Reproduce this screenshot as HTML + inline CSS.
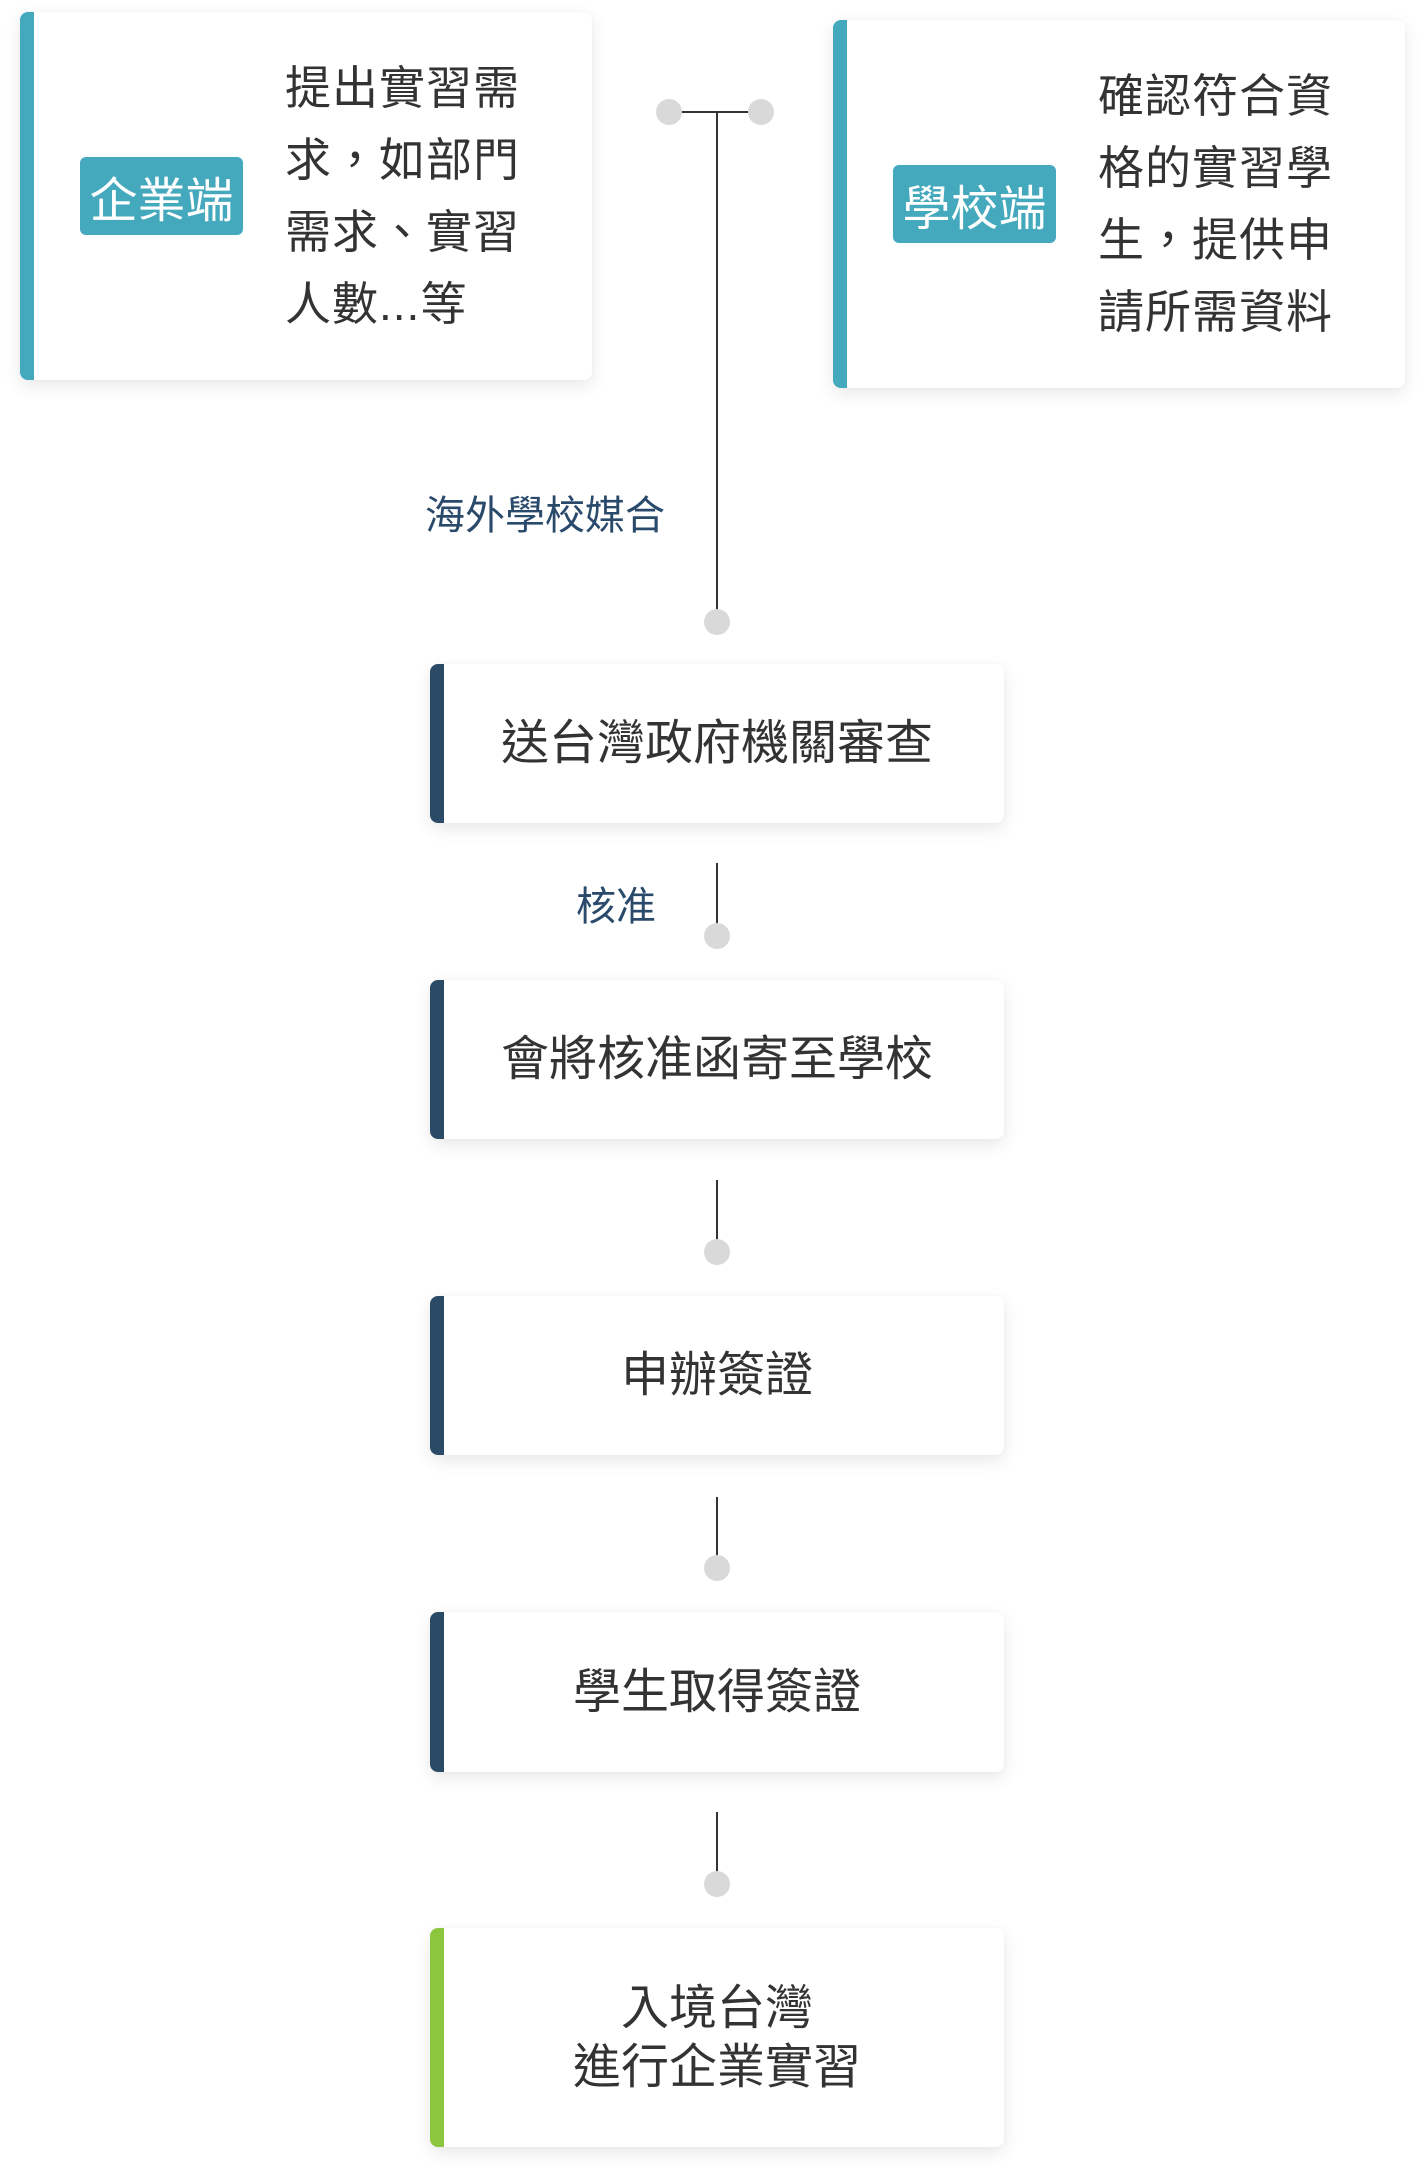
<!DOCTYPE html>
<html><head><meta charset="utf-8"><style>
html,body{margin:0;padding:0;background:#fff;width:1424px;height:2176px;overflow:hidden;position:relative;font-family:"Liberation Sans","Noto Sans CJK TC",sans-serif;color:#333}
.card{position:absolute;background:#fff;border-radius:8px;box-shadow:0 6px 18px rgba(0,0,0,0.09),0 0 4px rgba(0,0,0,0.03);overflow:hidden}
.card::before{content:"";position:absolute;left:0;top:0;bottom:0;width:14px;background:var(--c)}
.badge{position:absolute;background:#45a9bd;color:#fff;border-radius:6px;font-size:48px;display:flex;align-items:center;justify-content:center}
.txt{position:absolute;font-size:46px;line-height:72px;letter-spacing:1px}
.step{display:flex;align-items:center;justify-content:center;text-align:center;font-size:48px;line-height:59px}
.dot{position:absolute;width:26px;height:26px;border-radius:50%;background:#d9d9d9}
.vl{position:absolute;width:2px;background:#333;left:716px}
.lbl{position:absolute;color:#2a4a6b;font-size:40px;line-height:40px}
</style></head><body>
<div class="card" style="--c:#45a9bd;left:20px;top:12px;width:572px;height:368px"></div>
<div class="badge" style="left:80px;top:157px;width:163px;height:78px">企業端</div>
<div class="txt" style="left:285px;top:52px">提出實習需<br>求，如部門<br>需求、實習<br>人數...等</div>

<div class="card" style="--c:#45a9bd;left:833px;top:20px;width:572px;height:368px"></div>
<div class="badge" style="left:893px;top:165px;width:163px;height:78px">學校端</div>
<div class="txt" style="left:1098px;top:60px">確認符合資<br>格的實習學<br>生，提供申<br>請所需資料</div>

<div style="position:absolute;left:668px;top:111px;width:92px;height:2px;background:#333"></div>
<div class="dot" style="left:656px;top:99px"></div>
<div class="dot" style="left:748px;top:99px"></div>
<div class="vl" style="top:112px;height:505px"></div>
<div class="dot" style="left:704px;top:609px"></div>
<div class="lbl" style="left:425px;top:496px">海外學校媒合</div>

<div class="card step" style="--c:#2a4a66;left:430px;top:664px;width:574px;height:159px">送台灣政府機關審查</div>

<div class="vl" style="top:863px;height:70px"></div>
<div class="dot" style="left:704px;top:923px"></div>
<div class="lbl" style="left:576px;top:887px">核准</div>

<div class="card step" style="--c:#2a4a66;left:430px;top:980px;width:574px;height:159px">會將核准函寄至學校</div>

<div class="vl" style="top:1180px;height:70px"></div>
<div class="dot" style="left:704px;top:1239px"></div>

<div class="card step" style="--c:#2a4a66;left:430px;top:1296px;width:574px;height:159px">申辦簽證</div>

<div class="vl" style="top:1497px;height:70px"></div>
<div class="dot" style="left:704px;top:1555px"></div>

<div class="card step" style="--c:#2a4a66;left:430px;top:1612px;width:574px;height:160px">學生取得簽證</div>

<div class="vl" style="top:1812px;height:70px"></div>
<div class="dot" style="left:704px;top:1871px"></div>

<div class="card step" style="--c:#8cc63f;left:430px;top:1928px;width:574px;height:219px">入境台灣<br>進行企業實習</div>
</body></html>
